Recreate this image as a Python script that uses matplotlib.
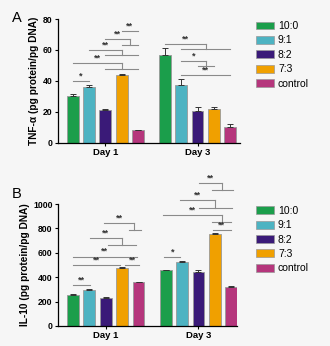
import matplotlib
matplotlib.use("Agg")
import matplotlib.pyplot as plt
import numpy as np
from matplotlib.patches import Patch

plt.rcParams["font.family"] = ["Liberation Sans", "DejaVu Sans"]

days = ["Day 1", "Day 3"]
groups = ["10:0", "9:1", "8:2", "7:3", "control"]
colors = ["#1b9e4b", "#4db3c2", "#3a1a78", "#f0a000", "#b5367c"]

tnf_mean = [[30.1, 36.1, 21.5, 43.9, 8.2], [57.0, 37.4, 20.9, 21.7, 10.5]]
tnf_err = [[1.5, 1.0, 0.4, 0.7, 0.3], [4.0, 3.6, 2.2, 1.3, 1.4]]
il10_mean = [[253, 297, 229, 474, 360], [458, 523, 441, 752, 322]]
il10_err = [[6, 4, 5, 6, 3], [5, 8, 17, 8, 3]]

# significance marks: (day, x1, x2, y, text, lower) in bar-index units;
# lower = (x_lo1, x_lo2, y_lo) joined to the top line by a vertical at x2
tnf_sig = [
    (0, 0, 1, 40, "*", None),
    (0, 0, 3, 51.6, "**", (2, 4, 48)),
    (0, 1, 3, 60.2, "**", (2, 4, 56.6)),
    (0, 2, 3.5, 67.3, "**", (3, 4, 63.4)),
    (0, 3, 4, 72, "**", None),
    (1, 0, 2.5, 63.9, "**", (1, 4, 60.6)),
    (1, 1, 2.5, 53.1, "*", (2, 3, 49.5)),
    (1, 1, 4, 43.7, "**", None),
]
il10_sig = [
    (0, 0, 1.05, 332, "**", None),
    (0, 0, 2.9, 501, "**", None),
    (0, 3.2, 4.05, 501, "**", None),
    (0, 0, 3.9, 569, "**", None),
    (0, 1.03, 3.0, 722, "**", (2.15, 3.85, 665)),
    (0, 1.9, 3.75, 842, "**", (3.4, 4.15, 787)),
    (1, -0.1, 0.9, 564, "*", None),
    (1, 2.9, 3.95, 785, "**", None),
    (1, -0.15, 3.4, 913, "**", (2.85, 3.95, 850)),
    (1, 0.9, 3.0, 1030, "**", (2.05, 4.05, 967)),
    (1, 2.05, 3.45, 1172, "**", (2.85, 4.1, 1112)),
]

step = 0.177
width = 0.127
line_c = "#8a8a8a"

fig = plt.figure(figsize=(3.3, 3.46), dpi=100)
fig.patch.set_facecolor("#f6f6f6")

def xpos(day, idx):
    return day + (idx - 2) * step

def panel(rect, means, errs, sig, ylim, yticks, ylabel, letter, letter_y, xmax, leg_y):
    ax = fig.add_axes(rect)
    ax.set_facecolor("#f6f6f6")
    for d in range(2):
        for i in range(5):
            ax.bar(xpos(d, i), means[d][i], width, color=colors[i],
                   edgecolor="#999999", linewidth=0.6, zorder=2)
            ax.errorbar(xpos(d, i), means[d][i], yerr=[[0], [errs[d][i]]],
                        color="#333333", capsize=2.2, elinewidth=0.7,
                        capthick=0.7, zorder=3)
    for d, x1, x2, y, txt, lo in sig:
        a, b = xpos(d, x1), xpos(d, x2)
        ax.plot([a, b], [y, y], color=line_c, lw=0.8, clip_on=False)
        if lo is not None:
            l1, l2, ylo = lo
            ax.plot([b, b], [y, ylo], color=line_c, lw=0.8, clip_on=False)
            ax.plot([xpos(d, l1), xpos(d, l2)], [ylo, ylo], color=line_c,
                    lw=0.8, clip_on=False)
        ax.text((a + b) / 2, y + ylim * 0.005, txt, ha="center", va="bottom",
                fontsize=6.5, fontweight="bold", color="#333333")
    ax.set_xlim(-0.512, xmax)
    ax.set_ylim(0, ylim)
    ax.set_yticks(yticks)
    ax.set_xticks([0, 1])
    ax.set_xticklabels(days, fontsize=6.8, fontweight="bold")
    for lab in ax.get_yticklabels():
        lab.set_fontsize(6.2)
        lab.set_fontweight("bold")
    ax.tick_params(length=2.5, width=0.8, pad=1.5)
    ax.set_ylabel(ylabel, fontsize=7.3, fontweight="bold", labelpad=2.5)
    for s in ["top", "right"]:
        ax.spines[s].set_visible(False)
    for s in ["left", "bottom"]:
        ax.spines[s].set_linewidth(0.9)
    fig.text(0.035, letter_y, letter, fontsize=10.5, va="baseline")
    handles = [Patch(facecolor=c, edgecolor="#999999", linewidth=0.5) for c in colors]
    fig.legend(handles, groups, loc="upper left", bbox_to_anchor=(0.776, leg_y),
               frameon=False, fontsize=7.5, handlelength=1.75, handleheight=0.8,
               labelspacing=0.42, handletextpad=0.35, borderaxespad=0,
               borderpad=0)
    return ax

panel([0.176, 0.587, 0.551, 0.358], tnf_mean, tnf_err, tnf_sig, 80,
      [0, 20, 40, 60, 80], "TNF-α (pg protein/pg DNA)", "A", 0.936, 1.458, 0.939)
panel([0.176, 0.058, 0.542, 0.352], il10_mean, il10_err, il10_sig, 1000,
      [0, 200, 400, 600, 800, 1000], "IL-10 (pg protein/pg DNA)", "B", 0.428, 1.414, 0.405)

fig.savefig("out.png", dpi=100, facecolor=fig.get_facecolor())
